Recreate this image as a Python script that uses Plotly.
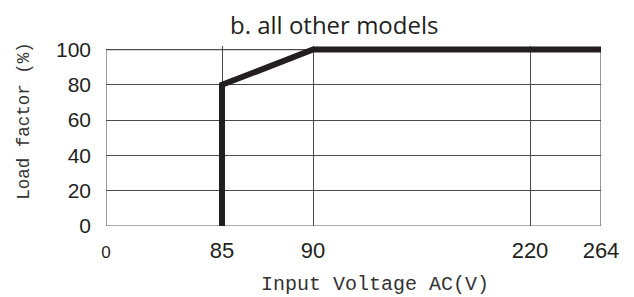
import numpy as np
import plotly.graph_objects as go

# --- data ---
voltage_ticks = [0, 85, 90, 220, 264]          # tick labels on the x axis (V AC)
tick_text = ["<span style='font-size:17px'>0</span>", "85", "90", "220", "264"]
curve_voltage = [85, 85, 90, 264]               # derating curve, input voltage
curve_load = [0, 80, 100, 100]                  # derating curve, load factor (%)
load_ticks = [0, 20, 40, 60, 80, 100]

# non-linear axis layout: display position of each voltage tick
axis_pos = [0, 116, 207, 424, 495]

curve_x = np.interp(curve_voltage, voltage_ticks, axis_pos)

OFF = 8  # page body margin
W, H = 634 - OFF, 297 - OFF
left, right_px, top0, bottom0 = 106 - OFF, 601 - OFF, 50 - OFF, 226 - OFF
px_per_unit = (bottom0 - top0) / 100.0
ymax = 102
top_px = bottom0 - ymax * px_per_unit
ph = bottom0 - top_px
pw = right_px - left

fig = go.Figure()
fig.add_trace(go.Scatter(
    x=curve_x, y=curve_load, mode="lines",
    line=dict(color="#231f20", width=6),
    hoverinfo="skip", showlegend=False,
))

grid_col = "#4a4a4a"
fig.update_layout(
    width=W, height=H,
    margin=dict(l=left, r=W - right_px, t=top_px, b=H - bottom0, autoexpand=False),
    paper_bgcolor="white", plot_bgcolor="white",
    showlegend=False,
    xaxis=dict(
        range=[axis_pos[0], axis_pos[-1]],
        tickvals=axis_pos, ticktext=tick_text,
        showgrid=True, gridcolor=grid_col, gridwidth=1,
        zeroline=False, showline=False,
        tickfont=dict(family="Liberation Sans", size=22, color="#231f20"),
        ticks="", ticklabelstandoff=9,
        fixedrange=True, automargin=False,
    ),
    yaxis=dict(
        range=[0, ymax],
        tickvals=load_ticks,
        showgrid=True, gridcolor=grid_col, gridwidth=1,
        zeroline=False, showline=False,
        tickfont=dict(family="Liberation Sans", size=21, color="#231f20"),
        ticks="", ticklabelstandoff=14,
        fixedrange=True, automargin=False,
    ),
    shapes=[dict(type="rect", xref="x", yref="y",
                 x0=axis_pos[0], x1=axis_pos[-1], y0=0, y1=100,
                 line=dict(color="#5a5a5a", width=1.2), layer="below")],
    annotations=[
        dict(text="b. all other models", xref="paper", yref="paper",
             x=(334 - OFF - left) / pw, y=1 + (top_px - (25 - OFF)) / ph,
             xanchor="center", yanchor="middle", showarrow=False,
             font=dict(family="Open Sans", size=24, color="#231f20")),
        dict(text="Input Voltage AC(V)", xref="paper", yref="paper",
             x=(375 - OFF - left) / pw, y=-(284 - OFF - bottom0) / ph,
             xanchor="center", yanchor="middle", showarrow=False,
             font=dict(family="Liberation Mono", size=20, color="#333333")),
        dict(text="Load factor (%)", xref="paper", yref="paper",
             x=-(left - (24 - OFF)) / pw, y=(bottom0 - (121 - OFF)) / ph,
             xanchor="center", yanchor="middle", showarrow=False, textangle=-90,
             font=dict(family="Liberation Mono", size=17.5, color="#333333")),
    ],
)

fig.write_html("out.html")
